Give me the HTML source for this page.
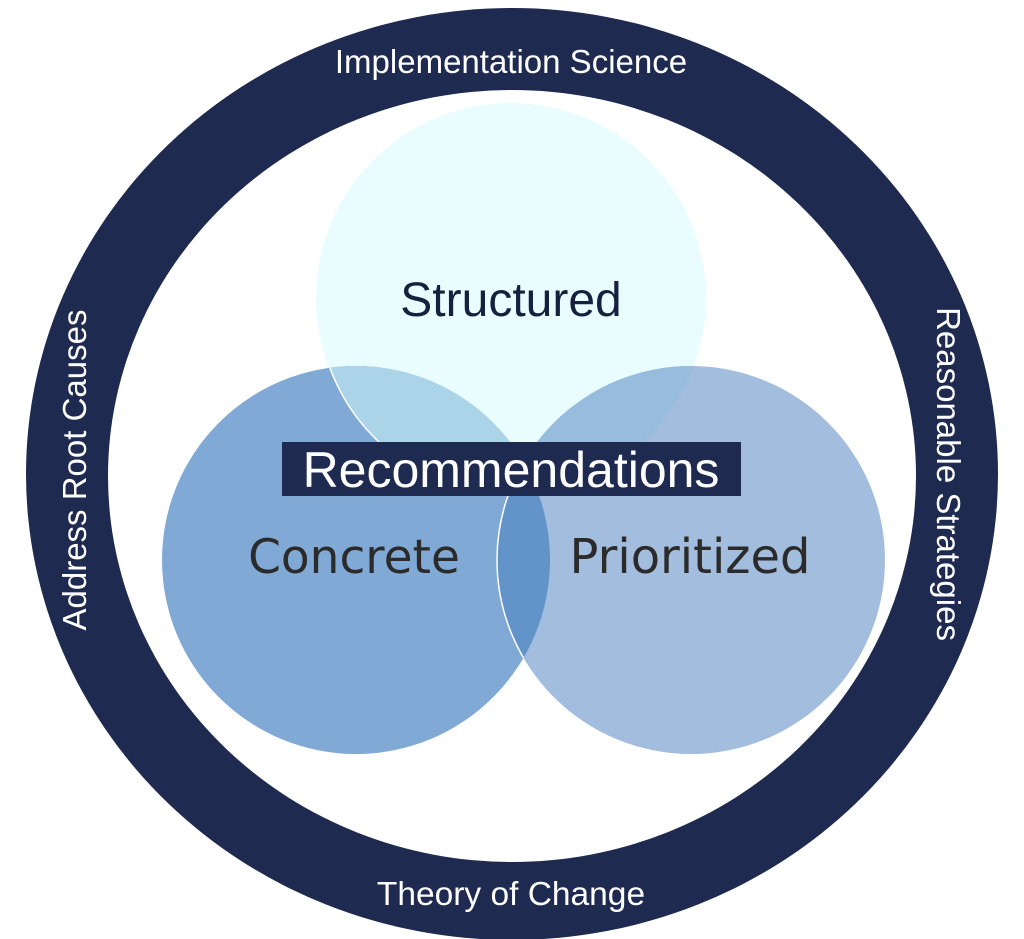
<!DOCTYPE html>
<html><head><style>html,body{margin:0;padding:0;background:#fff}svg{display:block}</style></head>
<body>
<svg width="1024" height="939" viewBox="0 0 1024 939" xmlns="http://www.w3.org/2000/svg">
<defs>
<clipPath id="cS"><circle cx="511" cy="298" r="195"/></clipPath>
<clipPath id="cC"><circle cx="356" cy="560" r="194"/></clipPath>
</defs>
<ellipse cx="512" cy="474" rx="486" ry="466" fill="#1e2a4f"/>
<ellipse cx="512" cy="476" rx="404" ry="386" fill="#fff"/>
<circle cx="511" cy="298" r="195" fill="#eafdfe"/>
<circle cx="356" cy="560" r="194" fill="#80aad5"/>
<circle cx="691" cy="560" r="194" fill="#a2bddd"/>
<circle cx="356" cy="560" r="194" fill="#acd4e8" clip-path="url(#cS)"/>
<circle cx="691" cy="560" r="194" fill="#97bcdd" clip-path="url(#cS)"/>
<circle cx="691" cy="560" r="194" fill="#6294c9" clip-path="url(#cC)"/>
<path d="M330,368 A195,195 0 0 0 380,443" fill="none" stroke="#fff" stroke-width="1.5" clip-path="url(#cC)"/>
<circle cx="691" cy="560" r="194" fill="none" stroke="#fff" stroke-width="1.5" clip-path="url(#cC)"/>
<rect x="282" y="442" width="459" height="54" fill="#1e2a4f"/>
<g font-family="Liberation Sans, sans-serif" text-anchor="middle">
<text x="511" y="487" font-size="50" fill="#fff">Recommendations</text>
<text x="511" y="316" font-size="48" fill="#16213e">Structured</text>
<text x="354" y="573" font-size="47" fill="#2b2b2b" font-family="DejaVu Sans, sans-serif">Concrete</text>
<text x="690" y="573" font-size="48" fill="#2b2b2b" font-family="DejaVu Sans, sans-serif">Prioritized</text>
<text x="511" y="73" font-size="33" fill="#fff">Implementation Science</text>
<text x="511" y="905" font-size="33.5" fill="#fff">Theory of Change</text>
<text transform="translate(86,470) rotate(-90)" font-size="33" fill="#fff">Address Root Causes</text>
<text transform="translate(937,474) rotate(90)" font-size="33" fill="#fff">Reasonable Strategies</text>
</g>
</svg>
</body></html>
